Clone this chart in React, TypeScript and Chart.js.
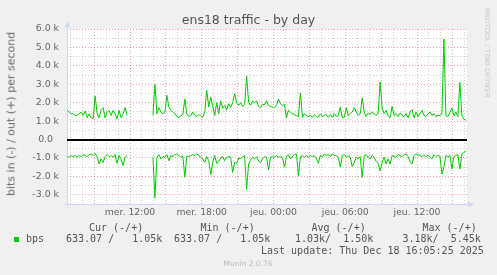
import React, { useEffect, useRef } from 'react';
import { Chart, registerables } from 'chart.js';

Chart.register(...registerables);

// ---- data (values in kbit/s), one sample every 10 minutes starting Wed 06:45 ----
const START_HOUR = 6.75; // hours since Wed 00:00
const STEP_HOURS = 1 / 6;

const outK: (number | null)[] = [
  1.58, 1.49, 1.4, 1.4, 1.31, 1.31, 1.4, 1.49, 1.31, 1.55,
  1.18, 1.4, 1.18, 1.13, 2.36, 1.4, 1.18, 1.62, 1.73, 1.18,
  1.49, 1.58, 1.31, 1.58, 1.4, 1.13, 1.58, 1.18, 1.4, 1.73,
  1.31,
  null, null, null, null, null, null, null, null, null, null, null, null,
  1.31, 3.0, 1.4, 1.73, 1.49, 1.4, 1.49, 2.4, 1.76, 1.58,
  1.49, 1.4, 1.25, 1.18, 1.3, 1.35, 2.2, 1.4, 1.25, 1.31,
  1.49, 1.31, 1.25, 1.35, 1.3, 1.2, 1.5, 2.67, 1.76, 2.3,
  1.8, 1.3, 2.0, 1.4, 2.1, 1.7, 1.85, 1.6, 1.95, 1.75,
  2.0, 2.5, 2.0, 1.85, 2.0, 1.8, 1.9, 3.45,
  2.04, 1.85, 2.1, 2.0, 2.1, 1.8, 1.73, 1.9, 1.9, 2.1,
  1.85, 1.8, 1.75, 1.73, 1.85, 2.2, 1.95, 1.85, 1.9, 1.18,
  1.58, 1.49, 1.4, 1.35, 1.31, 1.25, 2.53, 1.2, 1.4, 1.3,
  1.25, 1.3, 1.2, 1.35, 1.25, 1.2, 1.4, 1.25, 1.3, 1.35,
  1.2, 1.35, 1.2, 1.4, 1.25, 1.3, 1.76, 1.2, 1.2,
  1.73, 1.31, 1.4, 1.49, 1.73, 1.49, 1.31, 1.4, 2.27, 1.49,
  1.25, 1.44, 1.35, 1.49, 1.4, 1.31, 1.4, 3.13, 1.73, 1.4,
  1.58, 1.31, 1.18, 1.8, 1.31, 1.4, 1.25, 1.44, 1.31, 1.25,
  1.4, 1.18, 1.49, 1.62, 1.18, 1.49, 1.25, 1.4, 1.58, 1.31,
  1.25, 1.4, 1.49, 1.31, 1.4, 1.25, 1.31, 1.31, 1.4,
  5.45, 1.3, 1.25, 1.45, 1.7, 1.3, 1.5, 1.25, 3.1, 1.3, 1.1, 1.05,
];

const inK: (number | null)[] = [
  -0.93, -0.96, -0.87, -0.93, -0.87, -0.96, -0.87, -0.93, -0.82, -0.87,
  -0.93, -0.82, -0.78, -0.87, -0.75, -0.93, -1.33, -1.05, -1.24, -0.93,
  -0.82, -0.93, -0.87, -0.96, -0.82, -1.3, -0.87, -1.05, -1.42, -0.96,
  -0.87,
  null, null, null, null, null, null, null, null, null, null, null, null,
  -0.96, -3.15, -0.96, -0.82, -1.05, -0.93, -0.96, -0.82, -1.15, -0.87,
  -0.93, -0.82, -0.78, -0.87, -0.96, -0.9, -2.05, -0.9, -0.93, -0.87,
  -0.82, -0.87, -0.78, -0.87, -0.96, -1.05, -1.24, -0.93, -1.15, -1.9,
  -1.24, -0.87, -1.3, -1.2, -1.0, -0.93, -1.15, -0.96, -0.93, -0.96,
  -1.78, -1.24, -1.3, -1.0, -1.05, -0.93, -0.87, -2.7,
  -1.33, -1.1, -0.96, -1.05, -0.93, -1.15, -1.24, -1.05, -0.93, -0.96,
  -1.65, -0.96, -0.93, -0.96, -0.87, -0.96, -0.93, -1.0, -1.5, -0.93,
  -0.82, -1.05, -0.93, -0.82, -0.78, -1.96, -0.93, -0.9, -0.96, -0.87,
  -0.96, -0.87, -0.93, -0.87, -1.0, -1.3, -0.87, -0.93, -0.78, -0.87,
  -0.82, -0.93, -0.78, -0.87, -0.87, -0.96, -1.5, -0.87, -0.82,
  -0.96, -0.9, -0.96, -1.47, -1.24, -0.96, -1.05, -0.93, -2.05, -0.87,
  -0.82, -0.96, -1.05, -0.87, -0.96, -1.18, -1.3, -1.7, -1.24, -0.96,
  -1.33, -1.05, -1.33, -0.87, -0.93, -0.96, -0.82, -0.87, -0.93, -0.82,
  -0.78, -0.93, -1.2, -1.33, -0.87, -0.78, -0.82, -0.87, -0.93, -0.82,
  -0.93, -0.85, -0.96, -1.05, -0.82, -0.93, -0.87, -0.9, -1.87,
  -1.5, -0.87, -0.93, -0.87, -1.6, -0.93, -0.87, -0.82, -1.6, -0.78, -0.7, -0.63,
];

const X_MIN = 6.73;
const X_MAX = 40.18;
const Y_MIN = -3.5;
const Y_MAX = 6.0;

const HOUR_TICKS = [7, 8, 9, 10, 11, 12, 13, 14, 15, 16, 17, 18, 19, 20, 21, 22, 23, 24, 25, 26, 27, 28, 29, 30, 31, 32, 33, 34, 35, 36, 37, 38, 39, 40];
const LABEL_HOURS = [12, 18, 24, 30, 36];
const LABEL_TEXTS = ['mer. 12:00', 'mer. 18:00', 'jeu. 00:00', 'jeu. 06:00', 'jeu. 12:00'];
const Y_TICKS = [-3, -2.5, -2, -1.5, -1, -0.5, 0, 0.5, 1, 1.5, 2, 2.5, 3, 3.5, 4, 4.5, 5, 5.5, 6];

const LEGEND_HEADERS = ['Cur (-/+)', 'Min (-/+)', 'Avg (-/+)', 'Max (-/+)'];
const LEGEND_VALUES = ['633.07 /   1.05k', '633.07 /   1.05k', '1.03k/  1.50k', '3.18k/  5.45k'];
const HEADER_LEFTS = [89, 200.5, 311.5, 422.5];
const VALUE_LEFTS = [66, 174, 295, 402.5];

const LINE_COLOR = '#00CC00';
const AXIS_COLOR = '#CFD6F8';
const MAJOR_GRID = 'rgba(255,0,0,0.37)';
const MINOR_GRID = 'rgba(128,128,128,0.37)';

const toPoints = (vals: (number | null)[]) =>
  vals.map((v, i) => ({ x: START_HOUR + i * STEP_HOURS, y: v }));

const muninPlugin = {
  id: 'muninDecor',
  beforeDraw(chart: any) {
    const { ctx, chartArea: a } = chart;
    ctx.save();
    ctx.fillStyle = '#FFFFFF';
    ctx.fillRect(a.left, a.top, a.right - a.left, a.bottom - a.top);
    ctx.restore();
  },
  beforeDatasetsDraw(chart: any) {
    const { ctx, chartArea: a, scales } = chart;
    const y0 = Math.round(scales.y.getPixelForValue(0));
    ctx.save();
    // axes
    ctx.fillStyle = AXIS_COLOR;
    ctx.fillRect(Math.round(a.left), a.top - 4, 1, a.bottom - a.top + 7);
    ctx.fillRect(Math.round(a.left) - 4, Math.round(a.bottom), a.right - a.left + 6, 1);
    ctx.beginPath();
    ctx.moveTo(a.left + 0.5, a.top - 8);
    ctx.lineTo(a.left - 2.5, a.top - 2);
    ctx.lineTo(a.left + 3.5, a.top - 2);
    ctx.closePath();
    ctx.fill();
    ctx.beginPath();
    ctx.moveTo(a.right + 7, a.bottom + 0.5);
    ctx.lineTo(a.right + 1, a.bottom - 2.5);
    ctx.lineTo(a.right + 1, a.bottom + 3.5);
    ctx.closePath();
    ctx.fill();
    // zero line
    ctx.fillStyle = '#000000';
    ctx.fillRect(a.left, y0 - 1, a.right - a.left, 2);
    ctx.restore();
  },
};

export default function App() {
  const ref = useRef<HTMLCanvasElement>(null);

  useEffect(() => {
    if (!ref.current) return;
    const chart = new Chart(ref.current, {
      type: 'line',
      data: {
        datasets: [
          {
            label: 'out',
            data: toPoints(outK) as any,
            borderColor: LINE_COLOR,
            borderWidth: 1,
            pointRadius: 0,
            tension: 0,
            spanGaps: false,
          },
          {
            label: 'in',
            data: toPoints(inK) as any,
            borderColor: LINE_COLOR,
            borderWidth: 1,
            pointRadius: 0,
            tension: 0,
            spanGaps: false,
          },
        ],
      },
      options: {
        animation: false,
        responsive: false,
        devicePixelRatio: 1,
        layout: { padding: { left: 0, right: 30, top: 29, bottom: 0 } },
        plugins: { legend: { display: false }, tooltip: { enabled: false }, title: { display: false } },
        scales: {
          x: {
            type: 'linear',
            min: X_MIN,
            max: X_MAX,
            afterBuildTicks: (scale: any) => {
              scale.ticks = HOUR_TICKS.map((value) => ({ value }));
            },
            afterFit: (scale: any) => {
              scale.height = 71;
            },
            ticks: {
              autoSkip: false,
              maxRotation: 0,
              padding: 3,
              color: '#666666',
              font: { family: 'DejaVu Sans', size: 9.3 },
              callback: (v: any) => {
                const k = LABEL_HOURS.indexOf(Number(v));
                return k >= 0 ? LABEL_TEXTS[k] : '';
              },
            },
            grid: {
              drawTicks: false,
              lineWidth: 1,
              color: (ctx: any) => (ctx.tick && ctx.tick.value % 3 === 0 ? MAJOR_GRID : MINOR_GRID),
            },
            border: { display: false, dash: [1, 2] },
          },
          y: {
            type: 'linear',
            min: Y_MIN,
            max: Y_MAX,
            afterBuildTicks: (scale: any) => {
              scale.ticks = Y_TICKS.map((value) => ({ value }));
            },
            afterFit: (scale: any) => {
              scale.width = 67;
            },
            ticks: {
              autoSkip: false,
              padding: 8,
              color: '#666666',
              font: { family: 'DejaVu Sans', size: 9.4 },
              callback: (v: any) => {
                const n = Number(v);
                if (!Number.isInteger(n)) return '';
                if (n === 0) return '0.0  ';
                return `${n.toFixed(1)} k`;
              },
            },
            grid: {
              drawTicks: false,
              lineWidth: 1,
              color: (ctx: any) => {
                const v = ctx.tick ? ctx.tick.value : 1;
                if (v === 0) return 'rgba(0,0,0,0)';
                return Number.isInteger(v) ? MAJOR_GRID : MINOR_GRID;
              },
            },
            border: { display: false, dash: [1, 2] },
          },
        },
      },
      plugins: [muninPlugin],
    } as any);
    return () => chart.destroy();
  }, []);

  const mono: React.CSSProperties = {
    position: 'absolute',
    fontFamily: '"DejaVu Sans Mono", monospace',
    fontSize: 10,
    lineHeight: '12px',
    color: '#555555',
    whiteSpace: 'pre',
  };

  return (
    <div
      style={{
        position: 'fixed',
        left: 0,
        top: 0,
        width: 497,
        height: 275,
        background: '#F0F0F0',
        overflow: 'hidden',
      }}
    >
      <canvas
        ref={ref}
        width={497}
        height={275}
        style={{ position: 'absolute', left: 0, top: 0, width: 497, height: 275 }}
      />
      <div
        style={{
          position: 'absolute',
          left: 0,
          width: 497,
          top: 11.5,
          textAlign: 'center',
          fontFamily: '"DejaVu Sans", sans-serif',
          fontSize: 12.5,
          lineHeight: '15px',
          color: '#555555',
          whiteSpace: 'nowrap',
        }}
      >
        ens18 traffic - by day
      </div>
      <div
        style={{
          position: 'absolute',
          left: 11,
          top: 114,
          transform: 'translate(-50%, -50%) rotate(-90deg)',
          fontFamily: '"DejaVu Sans", sans-serif',
          fontSize: 11,
          lineHeight: '13px',
          color: '#666666',
          whiteSpace: 'nowrap',
        }}
      >
        bits in (-) / out (+) per second
      </div>
      <div
        style={{
          position: 'absolute',
          left: 487,
          top: 53,
          transform: 'translate(-50%, -50%) rotate(90deg)',
          fontFamily: '"DejaVu Sans", sans-serif',
          fontSize: 7,
          lineHeight: '8px',
          color: '#C8C8C8',
          whiteSpace: 'nowrap',
        }}
      >
        RRDTOOL / TOBI OETIKER
      </div>
      {LEGEND_HEADERS.map((h, i) => (
        <div key={'h' + i} style={{ ...mono, left: HEADER_LEFTS[i], top: 221.5 }}>
          {h}
        </div>
      ))}
      <div
        style={{
          position: 'absolute',
          left: 14,
          top: 237,
          width: 5,
          height: 5,
          background: LINE_COLOR,
        }}
      />
      <div style={{ ...mono, left: 26, top: 233.3 }}>bps</div>
      {LEGEND_VALUES.map((v, i) => (
        <div key={'v' + i} style={{ ...mono, left: VALUE_LEFTS[i], top: 233.3 }}>
          {v}
        </div>
      ))}
      <div style={{ ...mono, left: 261, top: 245.3 }}>Last update: Thu Dec 18 16:05:25 2025</div>
      <div
        style={{
          position: 'absolute',
          left: 198,
          width: 100,
          top: 259,
          textAlign: 'center',
          fontFamily: '"DejaVu Sans", sans-serif',
          fontSize: 7.5,
          lineHeight: '10px',
          color: '#BBBBBB',
          whiteSpace: 'nowrap',
        }}
      >
        Munin 2.0.76
      </div>
    </div>
  );
}
